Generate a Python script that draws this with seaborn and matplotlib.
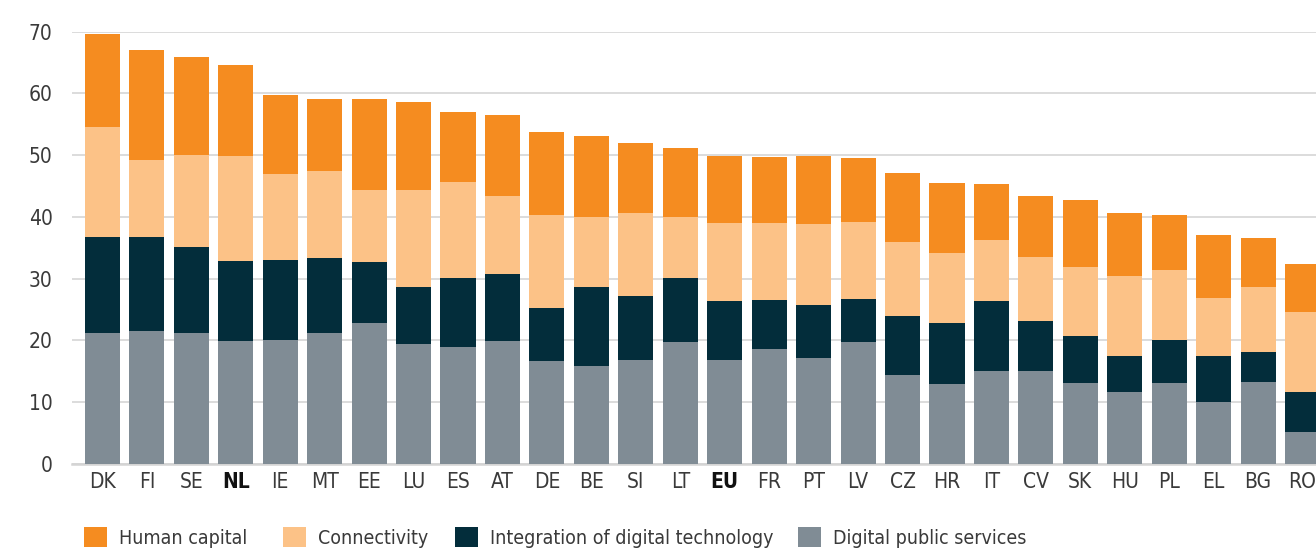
import pandas as pd
import matplotlib
matplotlib.use("Agg")
import matplotlib.pyplot as plt
from matplotlib import font_manager
import seaborn as sns
from matplotlib.patches import Patch

# values
countries = ["DK", "FI", "SE", "NL", "IE", "MT", "EE", "LU", "ES", "AT", "DE", "BE", "SI", "LT",
             "EU", "FR", "PT", "LV", "CZ", "HR", "IT", "CV", "SK", "HU", "PL", "EL", "BG", "RO"]
public_services = [21.1, 21.5, 21.2, 19.9, 20.0, 21.2, 22.8, 19.4, 18.9, 19.9, 16.6, 15.8, 16.8, 19.7,
                   16.8, 18.6, 17.1, 19.7, 14.4, 12.9, 15.0, 15.0, 13.1, 11.6, 13.1, 10.0, 13.2, 5.1]
integration = [15.6, 15.2, 13.9, 12.9, 13.0, 12.1, 9.9, 9.2, 11.2, 10.8, 8.6, 12.8, 10.4, 10.4,
               9.6, 7.9, 8.6, 7.0, 9.5, 9.9, 11.4, 8.1, 7.6, 5.8, 6.9, 7.4, 4.9, 6.5]
connectivity = [17.8, 12.5, 14.9, 17.1, 13.9, 14.1, 11.6, 15.7, 15.5, 12.7, 15.1, 11.4, 13.4, 9.9,
                12.6, 12.5, 13.1, 12.5, 12.0, 11.3, 9.8, 10.4, 11.2, 13.0, 11.4, 9.4, 10.5, 13.0]
human_capital = [15.2, 17.8, 15.9, 14.7, 12.8, 11.7, 14.8, 14.3, 11.4, 13.1, 13.4, 13.1, 11.4, 11.2,
                 10.9, 10.7, 11.1, 10.3, 11.2, 11.4, 9.1, 9.9, 10.8, 10.2, 8.9, 10.3, 8.0, 7.8]
highlight = ["NL", "EU"]

series_names = ["Human capital", "Connectivity", "Integration of digital technology",
                "Digital public services"]
colors = ["#F58C20", "#FCC287", "#032D3B", "#808C95"]
legend_x = [84, 283, 455, 798]  # left edge of each legend swatch, px

df = pd.DataFrame({
    "country": countries,
    "Digital public services": public_services,
    "Integration of digital technology": integration,
    "Connectivity": connectivity,
    "Human capital": human_capital,
})
# cumulative heights for stacking (bottom -> top)
df["c1"] = df["Digital public services"]
df["c2"] = df["c1"] + df["Integration of digital technology"]
df["c3"] = df["c2"] + df["Connectivity"]
df["c4"] = df["c3"] + df["Human capital"]

# the original uses a condensed face; pick one if it is installed
narrow = None
for f in font_manager.fontManager.ttflist:
    if f.style == "normal" and f.weight in (400, "normal", "regular") and (
            "Narrow" in f.name or "Condensed" in f.name or f.stretch == "condensed"):
        narrow = f
        break

sns.set_style("white")
if narrow is not None:
    plt.rcParams["font.family"] = [narrow.name, "DejaVu Sans"]
    if narrow.stretch == "condensed":
        plt.rcParams["font.stretch"] = "condensed"
    tick_size, legend_size = 15, 14
else:
    plt.rcParams["font.family"] = ["DejaVu Sans"]
    tick_size, legend_size = 12.5, 11.5
text_color = "#3a3a3a"

fig = plt.figure(figsize=(13.16, 5.53), dpi=100)
ax = fig.add_axes([72 / 1316, 89.3 / 553, 1261 / 1316, 432 / 553])

# draw tallest layer first so lower layers overlay it
for col, color in zip(["c4", "c3", "c2", "c1"], colors):
    sns.barplot(data=df, x="country", y=col, color=color, saturation=1,
                width=0.79, linewidth=0, ax=ax, zorder=3)

ax.set_xlim(-0.686, 27.686)
ax.set_ylim(0, 70)
ax.set_yticks(range(0, 71, 10))
ax.yaxis.grid(True, color="#d9d9d9", linewidth=1.3, zorder=0)
ax.set_axisbelow(True)
for s in ["top", "right", "left"]:
    ax.spines[s].set_visible(False)
ax.spines["bottom"].set_color("#d4d4d4")
ax.spines["bottom"].set_linewidth(1.8)
ax.set_xlabel("")
ax.set_ylabel("")
ax.tick_params(axis="both", length=0, labelsize=tick_size, colors=text_color)
ax.tick_params(axis="y", pad=14)
ax.tick_params(axis="x", pad=6)
for lbl in ax.get_xticklabels():
    if lbl.get_text() in highlight:
        lbl.set_fontweight("bold")
        lbl.set_color("#111111")

# one legend per entry so each swatch sits where the original has it
hsize = 23 / (legend_size * 100 / 72)
for name, color, x0 in zip(series_names, colors, legend_x):
    fig.legend([Patch(facecolor=color, edgecolor="none")], [name], loc="center left",
               bbox_to_anchor=(x0 / 1316, 15.5 / 553), frameon=False,
               fontsize=legend_size, handlelength=hsize, handleheight=hsize,
               handletextpad=0.6, borderpad=0, borderaxespad=0, labelcolor=text_color)

fig.savefig("out.png", dpi=100)
